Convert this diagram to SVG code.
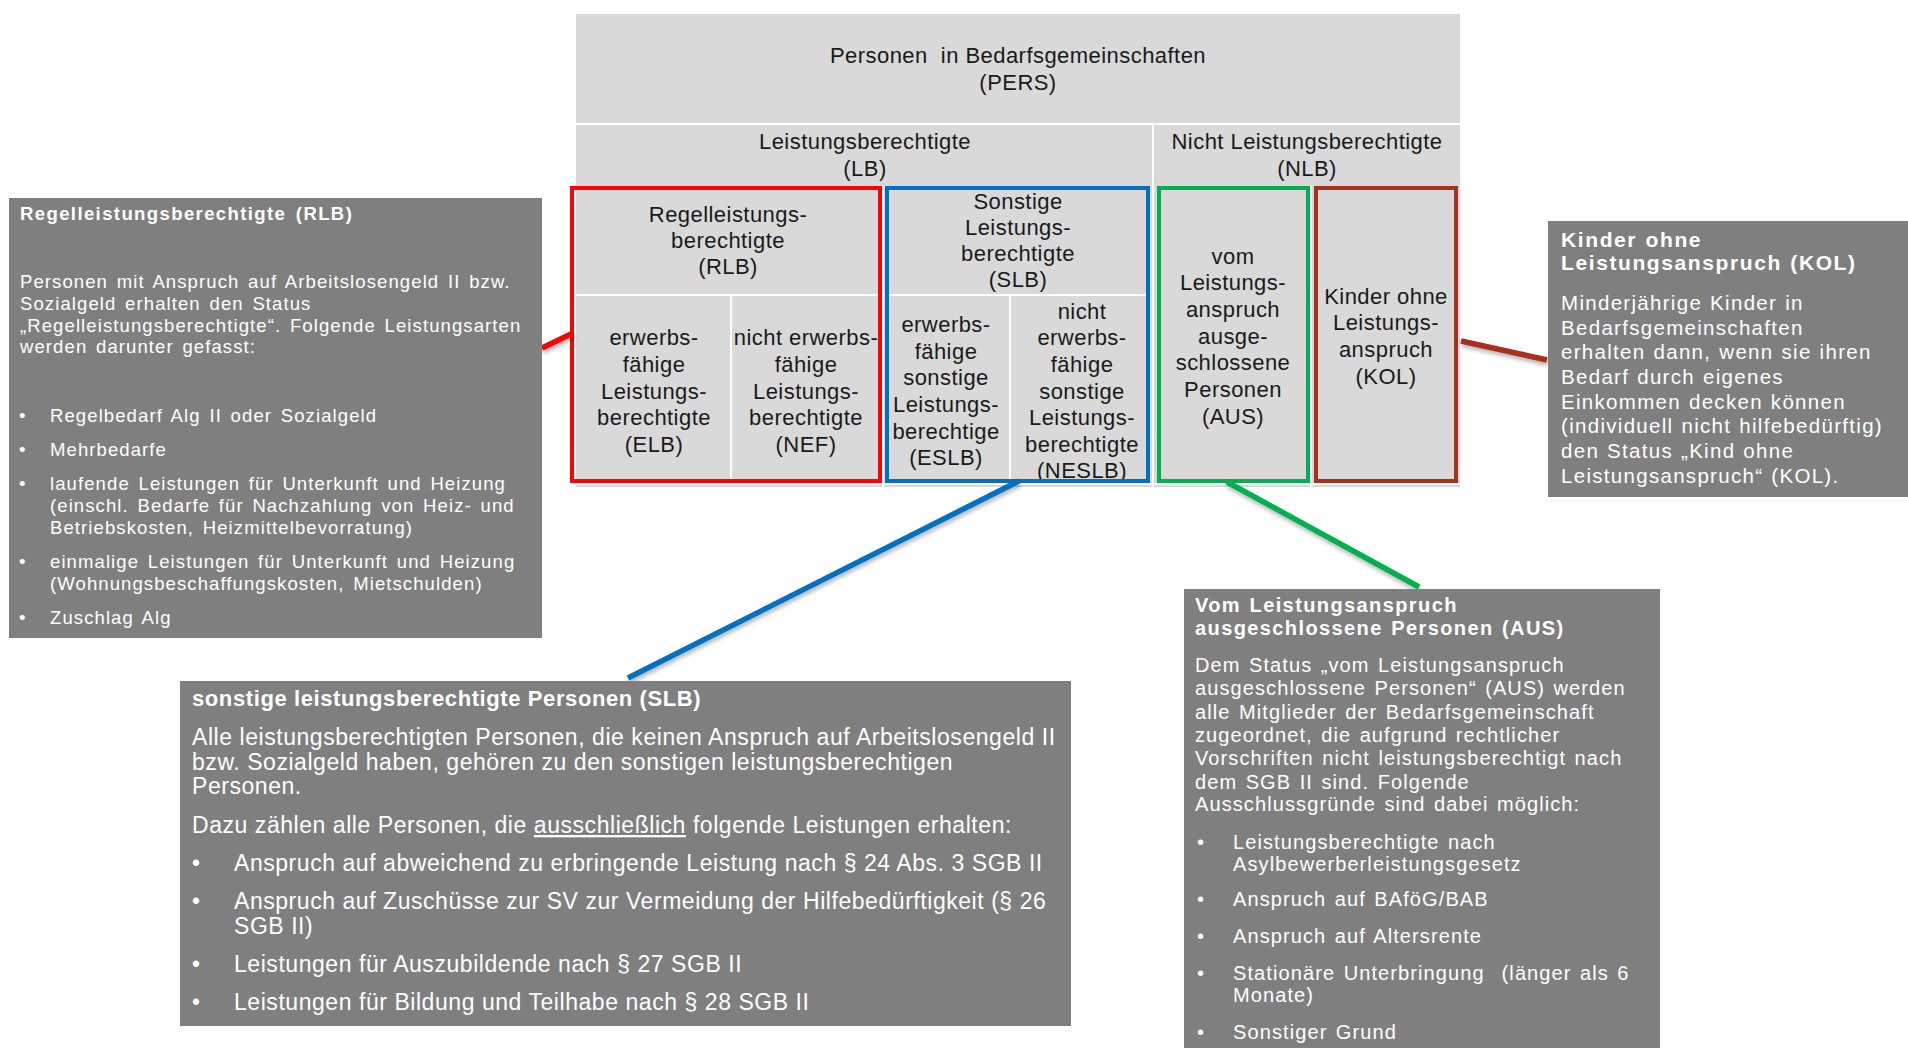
<svg xmlns="http://www.w3.org/2000/svg" width="1908" height="1048" viewBox="0 0 1908 1048">
<style>
.cell{fill:#d9d9d9}
.sep{stroke:#ffffff;stroke-width:2}
.t{font-family:"Liberation Sans",Arial,sans-serif;font-size:22px;letter-spacing:0.45px;fill:#1a1a1a;text-anchor:middle}
.box{fill:none;stroke-width:4}
.co{fill:#7f7f7f}
.w{font-family:"Liberation Sans",Arial,sans-serif;fill:#ffffff}
.b{font-weight:bold}
.con{stroke-width:5.5;fill:none}
.rl{font-size:18.5px;letter-spacing:1.1px;word-spacing:2.5px}
.kl{font-size:20.5px;letter-spacing:1.3px;word-spacing:1px}
.kt{font-size:21px;letter-spacing:1.6px;word-spacing:1px}
.sl{font-size:23px;letter-spacing:0.55px}
.st{font-size:22px;letter-spacing:0.6px}
.al{font-size:20px;letter-spacing:1.1px;word-spacing:1.8px}
.at{font-size:20px;letter-spacing:1.4px;word-spacing:1.5px}
</style>
<defs>
<filter id="sh" x="-10%" y="-10%" width="120%" height="130%">
<feDropShadow dx="1" dy="3" stdDeviation="2" flood-color="#000" flood-opacity="0.3"/>
</filter>
</defs>
<rect width="1908" height="1048" fill="#ffffff"/>

<g id="table">
<rect class="cell" x="576" y="14" width="884" height="473"/>
<line class="sep" x1="576" y1="124" x2="1460" y2="124"/>
<line class="sep" x1="1153" y1="124" x2="1153" y2="487"/>
<line class="sep" x1="576" y1="295" x2="1150" y2="295"/>
<line class="sep" x1="731" y1="295" x2="731" y2="484"/>
<line class="sep" x1="1010" y1="295" x2="1010" y2="484"/>
<line class="sep" x1="883" y1="186" x2="883" y2="487"/>
<line class="sep" x1="1311" y1="186" x2="1311" y2="487"/>
<line class="sep" x1="576" y1="484" x2="1460" y2="484"/>
</g>

<g id="node-pers">
<text class="t" x="1018" y="63">Personen&#160; in Bedarfsgemeinschaften</text>
<text class="t" x="1018" y="90">(PERS)</text>
</g>
<g id="node-lb">
<text class="t" x="865" y="149">Leistungsberechtigte</text>
<text class="t" x="865" y="176">(LB)</text>
</g>
<g id="node-nlb">
<text class="t" x="1307" y="149">Nicht Leistungsberechtigte</text>
<text class="t" x="1307" y="176">(NLB)</text>
</g>
<g id="node-rlb">
<text class="t" x="728" y="222">Regelleistungs-</text>
<text class="t" x="728" y="248">berechtigte</text>
<text class="t" x="728" y="274">(RLB)</text>
</g>
<g id="node-elb">
<text class="t" x="654" y="345">erwerbs-</text>
<text class="t" x="654" y="372">fähige</text>
<text class="t" x="654" y="399">Leistungs-</text>
<text class="t" x="654" y="425">berechtigte</text>
<text class="t" x="654" y="452">(ELB)</text>
</g>
<g id="node-nef">
<text class="t" x="806" y="345">nicht erwerbs-</text>
<text class="t" x="806" y="372">fähige</text>
<text class="t" x="806" y="399">Leistungs-</text>
<text class="t" x="806" y="425">berechtigte</text>
<text class="t" x="806" y="452">(NEF)</text>
</g>
<g id="node-slb">
<text class="t" x="1018" y="209">Sonstige</text>
<text class="t" x="1018" y="235">Leistungs-</text>
<text class="t" x="1018" y="261">berechtigte</text>
<text class="t" x="1018" y="287">(SLB)</text>
</g>
<g id="node-eslb">
<text class="t" x="946" y="332">erwerbs-</text>
<text class="t" x="946" y="359">fähige</text>
<text class="t" x="946" y="385">sonstige</text>
<text class="t" x="946" y="412">Leistungs-</text>
<text class="t" x="946" y="439">berechtige</text>
<text class="t" x="946" y="465">(ESLB)</text>
</g>
<g id="node-neslb">
<text class="t" x="1082" y="319">nicht</text>
<text class="t" x="1082" y="345">erwerbs-</text>
<text class="t" x="1082" y="372">fähige</text>
<text class="t" x="1082" y="399">sonstige</text>
<text class="t" x="1082" y="425">Leistungs-</text>
<text class="t" x="1082" y="452">berechtigte</text>
<text class="t" x="1082" y="478">(NESLB)</text>
</g>
<g id="node-aus">
<text class="t" x="1233" y="264">vom</text>
<text class="t" x="1233" y="290">Leistungs-</text>
<text class="t" x="1233" y="317">anspruch</text>
<text class="t" x="1233" y="344">ausge-</text>
<text class="t" x="1233" y="370">schlossene</text>
<text class="t" x="1233" y="397">Personen</text>
<text class="t" x="1233" y="424">(AUS)</text>
</g>
<g id="node-kol">
<text class="t" x="1386" y="304">Kinder ohne</text>
<text class="t" x="1386" y="330">Leistungs-</text>
<text class="t" x="1386" y="357">anspruch</text>
<text class="t" x="1386" y="384">(KOL)</text>
</g>

<g id="frames">
<rect class="box" x="572" y="188" width="308" height="293" stroke="#ff0000"/>
<rect class="box" x="887" y="188" width="261" height="293" stroke="#0070c0"/>
<rect class="box" x="1159" y="188" width="149" height="293" stroke="#00b050"/>
<rect class="box" x="1316" y="188" width="140" height="293" stroke="#a5321e"/>
</g>

<g id="connectors" filter="url(#sh)">
<line class="con" x1="542" y1="348" x2="573" y2="333" stroke="#ff0000"/>
<line class="con" x1="1461" y1="341" x2="1547" y2="360" stroke="#a5321e"/>
<line class="con" x1="1019" y1="481" x2="628" y2="678" stroke="#0070c0"/>
<line class="con" x1="1227" y1="482" x2="1419" y2="587" stroke="#00b050"/>
</g>

<g id="callout-rlb">
<rect class="co" x="9" y="198" width="533" height="440"/>
<text class="w b" x="20" y="220" font-size="18.5" letter-spacing="1.4" word-spacing="3">Regelleistungsberechtigte (RLB)</text>
<g class="w rl">
<text x="20" y="288">Personen mit Anspruch auf Arbeitslosengeld II bzw.</text>
<text x="20" y="310">Sozialgeld erhalten den Status</text>
<text x="20" y="332">„Regelleistungsberechtigte“. Folgende Leistungsarten</text>
<text x="20" y="353">werden darunter gefasst:</text>
<text x="19" y="422">•</text><text x="50" y="422">Regelbedarf Alg II oder Sozialgeld</text>
<text x="19" y="456">•</text><text x="50" y="456">Mehrbedarfe</text>
<text x="19" y="490">•</text><text x="50" y="490">laufende Leistungen für Unterkunft und Heizung</text>
<text x="50" y="512">(einschl. Bedarfe für Nachzahlung von Heiz- und</text>
<text x="50" y="534">Betriebskosten, Heizmittelbevorratung)</text>
<text x="19" y="568">•</text><text x="50" y="568">einmalige Leistungen für Unterkunft und Heizung</text>
<text x="50" y="590">(Wohnungsbeschaffungskosten, Mietschulden)</text>
<text x="19" y="624">•</text><text x="50" y="624">Zuschlag Alg</text>
</g>
</g>

<g id="callout-kol">
<rect class="co" x="1548" y="221" width="362" height="276"/>
<g class="w b kt">
<text x="1561" y="247">Kinder ohne</text>
<text x="1561" y="270">Leistungsanspruch (KOL)</text>
</g>
<g class="w kl">
<text x="1561" y="310">Minderjährige Kinder in</text>
<text x="1561" y="335">Bedarfsgemeinschaften</text>
<text x="1561" y="359">erhalten dann, wenn sie ihren</text>
<text x="1561" y="384">Bedarf durch eigenes</text>
<text x="1561" y="409">Einkommen decken können</text>
<text x="1561" y="433">(individuell nicht hilfebedürftig)</text>
<text x="1561" y="458">den Status „Kind ohne</text>
<text x="1561" y="483">Leistungsanspruch“ (KOL).</text>
</g>
</g>

<g id="callout-slb">
<rect class="co" x="180" y="681" width="891" height="345"/>
<text class="w b st" x="192" y="706">sonstige leistungsberechtigte Personen (SLB)</text>
<g class="w sl">
<text x="192" y="745">Alle leistungsberechtigten Personen, die keinen Anspruch auf Arbeitslosengeld II</text>
<text x="192" y="770">bzw. Sozialgeld haben, gehören zu den sonstigen leistungsberechtigen</text>
<text x="192" y="794">Personen.</text>
<text x="192" y="833">Dazu zählen alle Personen, die <tspan text-decoration="underline">ausschließlich</tspan> folgende Leistungen erhalten:</text>
<text x="192" y="871">•</text><text x="234" y="871">Anspruch auf abweichend zu erbringende Leistung nach § 24 Abs. 3 SGB II</text>
<text x="192" y="909">•</text><text x="234" y="909">Anspruch auf Zuschüsse zur SV zur Vermeidung der Hilfebedürftigkeit (§ 26</text>
<text x="234" y="934">SGB II)</text>
<text x="192" y="972">•</text><text x="234" y="972">Leistungen für Auszubildende nach § 27 SGB II</text>
<text x="192" y="1010">•</text><text x="234" y="1010">Leistungen für Bildung und Teilhabe nach § 28 SGB II</text>
</g>
</g>

<g id="callout-aus">
<rect class="co" x="1184" y="589" width="476" height="470"/>
<g class="w b at">
<text x="1195" y="612">Vom Leistungsanspruch</text>
<text x="1195" y="635">ausgeschlossene Personen (AUS)</text>
</g>
<g class="w al">
<text x="1195" y="672">Dem Status „vom Leistungsanspruch</text>
<text x="1195" y="695">ausgeschlossene Personen“ (AUS) werden</text>
<text x="1195" y="719">alle Mitglieder der Bedarfsgemeinschaft</text>
<text x="1195" y="742">zugeordnet, die aufgrund rechtlicher</text>
<text x="1195" y="765">Vorschriften nicht leistungsberechtigt nach</text>
<text x="1195" y="789">dem SGB II sind. Folgende</text>
<text x="1195" y="811">Ausschlussgründe sind dabei möglich:</text>
<text x="1197" y="849">•</text><text x="1233" y="849">Leistungsberechtigte nach</text>
<text x="1233" y="871">Asylbewerberleistungsgesetz</text>
<text x="1197" y="906">•</text><text x="1233" y="906">Anspruch auf BAföG/BAB</text>
<text x="1197" y="943">•</text><text x="1233" y="943">Anspruch auf Altersrente</text>
<text x="1197" y="980">•</text><text x="1233" y="980">Stationäre Unterbringung&#160; (länger als 6</text>
<text x="1233" y="1002">Monate)</text>
<text x="1197" y="1039">•</text><text x="1233" y="1039">Sonstiger Grund</text>
</g>
</g>
</svg>
